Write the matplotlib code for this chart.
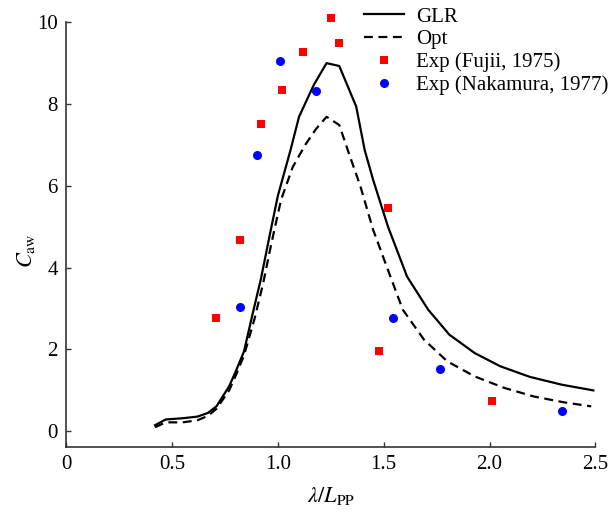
import matplotlib
matplotlib.use('Agg')
import matplotlib.pyplot as plt

# GLR (solid) and Opt (dashed) curves
glr_x = [0.42, 0.47, 0.55, 0.62, 0.67, 0.71, 0.77, 0.80, 0.84, 0.88, 0.92, 0.96, 1.00, 1.06, 1.10,
         1.17, 1.23, 1.29, 1.37, 1.41, 1.45, 1.52, 1.61, 1.71, 1.81, 1.93, 2.05, 2.19, 2.34, 2.49]
glr_y = [0.15, 0.29, 0.32, 0.36, 0.45, 0.61, 1.10, 1.45, 1.95, 2.85, 3.72, 4.75, 5.75, 6.87, 7.68,
         8.46, 8.99, 8.92, 7.93, 6.87, 6.14, 5.00, 3.78, 2.97, 2.36, 1.91, 1.59, 1.33, 1.14, 1.00]

opt_x = [0.42, 0.47, 0.55, 0.62, 0.67, 0.71, 0.77, 0.80, 0.84, 0.89, 0.93, 0.97, 1.015, 1.07, 1.13,
         1.18, 1.23, 1.29, 1.33, 1.39, 1.45, 1.52, 1.59, 1.69, 1.80, 1.93, 2.07, 2.21, 2.35, 2.48]
opt_y = [0.10, 0.22, 0.22, 0.27, 0.38, 0.55, 1.00, 1.35, 1.85, 2.75, 3.60, 4.60, 5.65, 6.45, 7.00,
         7.38, 7.68, 7.48, 6.87, 5.98, 4.92, 3.94, 2.97, 2.24, 1.71, 1.34, 1.06, 0.85, 0.71, 0.61]

# experiments
fujii_x = [0.71, 0.82, 0.92, 1.02, 1.12, 1.25, 1.29, 1.52, 1.48, 2.01]
fujii_y = [2.77, 4.66, 7.50, 8.33, 9.26, 10.08, 9.47, 5.45, 1.96, 0.73]

naka_x = [0.82, 0.90, 1.01, 1.18, 1.545, 1.765, 2.34]
naka_y = [3.03, 6.75, 9.04, 8.32, 2.76, 1.53, 0.49]

plt.rcParams['font.family'] = ['Liberation Serif', 'DejaVu Serif']
plt.rcParams['mathtext.fontset'] = 'stix'

fig = plt.figure(figsize=(6.12, 5.18), dpi=100)
ax = fig.add_axes([0.108, 0.138, 0.865, 0.820])

ax.plot(glr_x, glr_y, color='black', lw=1.6, label='GLR')
ax.plot(opt_x, opt_y, color='black', lw=1.6, ls=(0, (4, 2.5)), label='Opt')
ax.plot(fujii_x, fujii_y, 's', color='#ff0000', ms=6, mew=0, clip_on=False,
        label='Exp (Fujii, 1975)')
ax.plot(naka_x, naka_y, 'o', color='#0000ff', ms=6.5, mew=0, clip_on=False,
        label='Exp (Nakamura, 1977)')

ax.set_xlim(0, 2.5)
ax.set_ylim(-0.37, 10)
ax.set_xticks([0, 0.5, 1.0, 1.5, 2.0, 2.5])
ax.set_xticklabels(['0', '0.5', '1.0', '1.5', '2.0', '2.5'])
ax.set_yticks([0, 2, 4, 6, 8, 10])

for s in ['top', 'right']:
    ax.spines[s].set_visible(False)
for s in ['left', 'bottom']:
    ax.spines[s].set_color('#333333')
    ax.spines[s].set_linewidth(1.2)
ax.tick_params(direction='in', length=3.5, width=1, colors='#333333',
               labelcolor='black', labelsize=15, pad=6)

ax.set_xlabel(r'$\lambda/L_{\rm PP}$', fontsize=16, labelpad=8)
ax.set_ylabel(r'$C_{\rm aw}$', fontsize=16)
ax.yaxis.set_label_coords(-0.055, 0.46)

ax.legend(loc='upper left', bbox_to_anchor=(364 / 612, 1 - 7 / 518),
          bbox_transform=fig.transFigure, frameon=False, fontsize=15,
          handlelength=1.9, handletextpad=0.6, labelspacing=0.15,
          borderaxespad=0, borderpad=0)

plt.savefig('out.png', dpi=100)
plt.close('all')
